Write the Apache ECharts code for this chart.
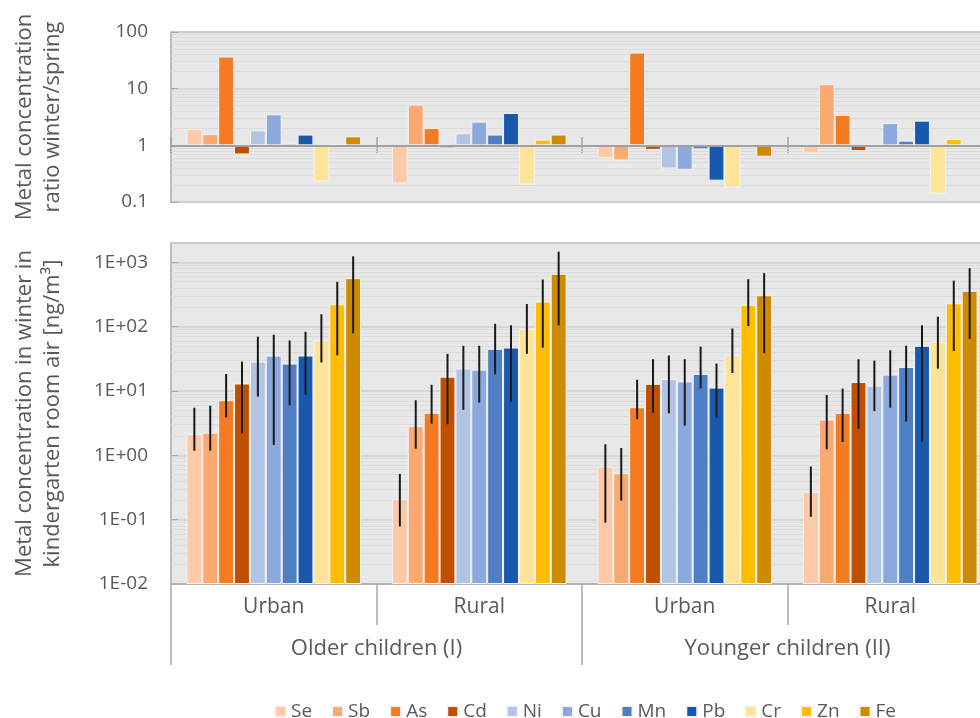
<!DOCTYPE html>
<html>
<head>
<meta charset="utf-8">
<script src="https://cdn.jsdelivr.net/npm/echarts@6/dist/echarts.min.js"></script>
<style>
  html, body { margin: 0; padding: 0; background: #ffffff; }
  #chart { width: 980px; height: 718px; }
</style>
</head>
<body>
<div id="chart"></div>
<script>
// Site groups and child cohorts
const groups = ['Urban', 'Rural', 'Urban', 'Rural'];
const cohorts = ['Older children (I)', 'Younger children (II)'];
const metals = ['Se', 'Sb', 'As', 'Cd', 'Ni', 'Cu', 'Mn', 'Pb', 'Cr', 'Zn', 'Fe'];
const metalColors = ['#FDC9A6', '#FBA970', '#F47B20', '#C05000', '#B2C4E6', '#8BA9DC', '#4E7EC6', '#1959AD', '#FFE396', '#FFBD00', '#CE8B00'];

// Winter / spring concentration ratios (one array per group, metals in order)
const ratioOlderUrban   = [1.94, 1.58, 36.9, 0.69, 1.84, 3.53, 1.08, 1.55, 0.23, 1.04, 1.44];
const ratioOlderRural   = [0.213, 5.24, 2.02, 0.885, 1.63, 2.62, 1.55, 3.72, 0.205, 1.26, 1.55];
const ratioYoungerUrban = [0.59, 0.54, 43.4, 0.83, 0.39, 0.37, 0.85, 0.238, 0.18, 1.0, 0.63];
const ratioYoungerRural = [0.72, 12.0, 3.43, 0.79, 1.0, 2.48, 1.21, 2.73, 0.14, 1.29, 1.0];

// Winter concentrations in kindergarten room air [ng/m³], with error-bar low / high ends
const winterOlderUrban   = [2.15, 2.25, 7.2, 13.1, 28.7, 35.6, 26.7, 35.6, 61.8, 223, 569];
const lowOlderUrban      = [1.18, 1.18, 3.9, 2.2, 8.2, 1.45, 6.0, 8.8, 27.7, 36, 79];
const highOlderUrban     = [5.5, 5.9, 18.4, 28.7, 70, 75, 61, 83.5, 156, 498, 1241];

const winterOlderRural   = [0.21, 2.84, 4.58, 16.7, 22.3, 21.5, 45.3, 47.5, 92.7, 246, 664];
const lowOlderRural      = [0.0786, 1.27, 3.1, 3.05, 5.1, 6.6, 18.2, 6.8, 37.8, 47, 105];
const highOlderRural     = [0.515, 7.2, 12.5, 37.8, 50.5, 50.5, 111, 105, 225, 542, 1465];

const winterYoungerUrban = [0.67, 0.53, 5.6, 12.9, 15.4, 14.1, 18.4, 11.3, 36.5, 218, 308];
const lowYoungerUrban    = [0.0898, 0.198, 3.65, 4.6, 4.5, 2.9, 11, 3.8, 19.1, 102, 38.7];
const highYoungerUrban   = [1.49, 1.3, 15, 31.2, 35.6, 31.2, 49, 26.7, 94, 548, 681];

const winterYoungerRural = [0.27, 3.6, 4.58, 13.8, 12.1, 18, 23.7, 50.5, 58.3, 231, 361];
const lowYoungerRural    = [0.111, 1.24, 1.61, 2.6, 4.87, 5.5, 3.35, 1.61, 22.3, 42, 64.7];
const highYoungerRural   = [0.67, 8.66, 10.9, 31.2, 29.7, 43, 50.5, 105, 143, 520, 815];

// Axis ranges
const ratioTicks = [0.1, 1, 10, 100];
const concMin = 0.01, concMax = 2000;

const ratioByGroup = [ratioOlderUrban, ratioOlderRural, ratioYoungerUrban, ratioYoungerRural];
const winterByGroup = [winterOlderUrban, winterOlderRural, winterYoungerUrban, winterYoungerRural];
const lowByGroup = [lowOlderUrban, lowOlderRural, lowYoungerUrban, lowYoungerRural];
const highByGroup = [highOlderUrban, highOlderRural, highYoungerUrban, highYoungerRural];

const FONT = 'Open Sans';
const TEXT = '#595959';
const PLOT_BG = '#E8E8E8';
const BORDER = '#A9A9A9';
const CAT_GAP = 0.15;
const PLOT_LEFT = 171, PLOT_WIDTH = 822;

// Minor log gridlines (2..9 within each decade)
function minorLines(fromExp, toExp) {
  const out = [];
  for (let e = fromExp; e <= toExp; e++) {
    for (let k = 2; k <= 9; k++) out.push({ yAxis: +(k * Math.pow(10, e)).toPrecision(3) });
  }
  return out;
}

function sciLabel(v) {
  const e = Math.round(Math.log10(v));
  return '1E' + (e < 0 ? '-' : '+') + String(Math.abs(e)).padStart(2, '0');
}

const series = [];

// Background minor gridlines for both panels
series.push({
  type: 'line', xAxisIndex: 0, yAxisIndex: 0, data: [], silent: true,
  markLine: {
    silent: true, symbol: 'none', z: 1, animation: false,
    label: { show: false },
    lineStyle: { color: '#DBDBDB', width: 1, type: 'solid' },
    data: minorLines(-1, 1)
  }
});
series.push({
  type: 'line', xAxisIndex: 1, yAxisIndex: 1, data: [], silent: true,
  markLine: {
    silent: true, symbol: 'none', z: 1, animation: false,
    label: { show: false },
    lineStyle: { color: '#DBDBDB', width: 1, type: 'solid' },
    data: minorLines(-2, 2)
  }
});

// Ratio bars (grow up or down from 1)
metals.forEach((m, i) => {
  series.push({
    name: m, type: 'bar', xAxisIndex: 0, yAxisIndex: 0,
    barGap: '0%', barCategoryGap: (CAT_GAP * 100) + '%',
    itemStyle: { color: metalColors[i], borderColor: '#F4F4F4', borderWidth: 1 },
    data: ratioByGroup.map(arr => arr[i]),
    z: 2
  });
});

// Reference line at ratio 1
series.push({
  type: 'line', xAxisIndex: 0, yAxisIndex: 0, data: [], silent: true,
  markLine: {
    silent: true, symbol: 'none', z: 4, animation: false,
    label: { show: false },
    lineStyle: { color: '#A0A0A0', width: 2, type: 'solid' },
    data: [{ yAxis: 1 }]
  }
});

// Winter concentration bars
metals.forEach((m, i) => {
  series.push({
    name: m, type: 'bar', xAxisIndex: 1, yAxisIndex: 1,
    barGap: '0%', barCategoryGap: (CAT_GAP * 100) + '%',
    itemStyle: { color: metalColors[i], borderColor: '#F4F4F4', borderWidth: 1 },
    data: winterByGroup.map(arr => arr[i]),
    z: 2
  });
});

// Error bars
const errorData = [];
groups.forEach((g, gi) => {
  metals.forEach((m, mi) => {
    errorData.push([gi, mi, lowByGroup[gi][mi], highByGroup[gi][mi]]);
  });
});
series.push({
  type: 'custom', xAxisIndex: 1, yAxisIndex: 1, silent: true, z: 5,
  encode: { x: 0, y: [2, 3] },
  data: errorData,
  renderItem(params, api) {
    const gi = api.value(0), mi = api.value(1);
    const band = api.size([1, 1])[0];
    const bw = band * (1 - CAT_GAP) / metals.length;
    const lo = api.coord([gi, api.value(2)]);
    const hi = api.coord([gi, api.value(3)]);
    const x = lo[0] + (mi - (metals.length - 1) / 2) * bw;
    return {
      type: 'line',
      shape: { x1: x, y1: hi[1], x2: x, y2: lo[1] },
      style: { stroke: '#1A1A1A', lineWidth: 2 }
    };
  }
});

const option = {
  animation: false,
  backgroundColor: '#FFFFFF',
  textStyle: { fontFamily: FONT, color: TEXT },
  legend: {
    data: metals,
    left: 269, top: 697,
    icon: 'rect', itemWidth: 11, itemHeight: 11, itemGap: 19,
    textStyle: { fontFamily: FONT, fontSize: 19, color: TEXT, lineHeight: 19 },
    selectedMode: false
  },
  grid: [
    { left: PLOT_LEFT, width: PLOT_WIDTH, top: 32, height: 170, outerBoundsMode: 'none', containLabel: false,
      show: true, backgroundColor: PLOT_BG, borderColor: BORDER, borderWidth: 1.5 },
    { left: PLOT_LEFT, width: PLOT_WIDTH, top: 243, height: 341, outerBoundsMode: 'none', containLabel: false,
      show: true, backgroundColor: PLOT_BG, borderColor: BORDER, borderWidth: 1.5 }
  ],
  xAxis: [
    {
      type: 'category', gridIndex: 0, data: groups, position: 'bottom', offset: -65,
      axisLine: { show: false },
      axisTick: { show: true, length: 16, interval: 0, lineStyle: { color: '#A0A0A0', width: 1.5 } },
      axisLabel: { show: false }
    },
    {
      type: 'category', gridIndex: 1, data: groups, position: 'bottom',
      axisLine: { show: true, lineStyle: { color: BORDER, width: 1.5 } },
      axisTick: { show: true, length: 41, interval: 0, lineStyle: { color: BORDER, width: 1.5 } },
      axisLabel: { fontFamily: FONT, fontSize: 21, color: TEXT, margin: 13, interval: 0 }
    },
    {
      type: 'category', gridIndex: 1, data: cohorts, position: 'bottom', offset: 41,
      axisLine: { show: false },
      axisTick: { show: true, length: 40, interval: 0, lineStyle: { color: BORDER, width: 1.5 } },
      axisLabel: { fontFamily: FONT, fontSize: 22, color: TEXT, margin: 13, interval: 0 }
    }
  ],
  yAxis: [
    {
      type: 'log', logBase: 10, gridIndex: 0, min: ratioTicks[0], max: ratioTicks[ratioTicks.length - 1],
      name: 'Metal concentration\nratio winter/spring', nameLocation: 'middle', nameGap: 104, nameRotate: 90,
      nameTextStyle: { fontFamily: FONT, fontSize: 22, color: TEXT, lineHeight: 28 },
      axisLine: { show: false },
      axisTick: { show: true, inside: true, length: 7, lineStyle: { color: BORDER } },
      axisLabel: { fontFamily: FONT, fontSize: 19, color: TEXT, margin: 23, formatter: v => String(+(+v).toPrecision(3)) },
      splitLine: { show: true, lineStyle: { color: '#D0D0D0', width: 1.5 } }
    },
    {
      type: 'log', logBase: 10, gridIndex: 1, min: concMin, max: concMax, startValue: concMin,
      name: 'Metal concentration in winter in\nkindergarten room air [ng/m³]', nameLocation: 'middle', nameGap: 104, nameRotate: 90,
      nameTextStyle: { fontFamily: FONT, fontSize: 22, color: TEXT, lineHeight: 28 },
      axisLine: { show: false },
      axisTick: { show: true, inside: true, length: 7, lineStyle: { color: BORDER } },
      axisLabel: { fontFamily: FONT, fontSize: 19, color: TEXT, margin: 23, showMaxLabel: false, formatter: sciLabel },
      splitLine: { show: true, lineStyle: { color: '#D0D0D0', width: 1.5 } }
    }
  ],
  series: series
};

const chart = echarts.init(document.getElementById('chart'), null, { renderer: 'canvas' });
chart.setOption(option);
</script>
</body>
</html>
